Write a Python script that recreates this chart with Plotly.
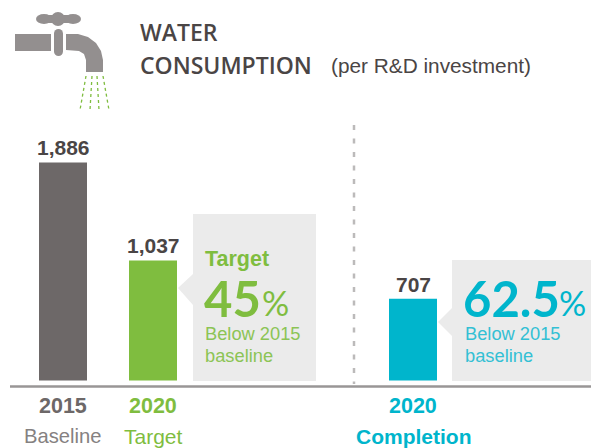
import plotly.graph_objects as go

# data
categories = ["2015", "2020", "2020"]
sublabels = ["Baseline", "Target", "Completion"]
sub_sizes = [20.2, 21, 21]
sub_shift = [-1, 0, 1]
values = [1886, 1037, 707]
value_labels = ["1,886", "1,037", "707"]
bar_colors = ["#6d6868", "#7fbd3f", "#00b5cc"]

W, H = 591, 448
GREY = "#938f8f"
DARK = "#4a4545"
GREEN = "#7fbd3f"
TEAL = "#00b5cc"
PANEL = "#ebebeb"
SANS = "Liberation Sans"
HEAD = "Open Sans"
NUM = "Lato"

centers = [63, 153, 413]
base_py = 380.5
scale = 0.1156  # px per unit

fig = go.Figure(go.Bar(
    x=centers, y=values, width=48, marker=dict(color=bar_colors, line=dict(width=0)),
    hoverinfo="skip", cliponaxis=False,
))

def py(v):
    return 1 - v / H

def path(points, close=True):
    s = "M" + " L".join(f"{x/W:.5f},{py(y):.5f}" for x, y in points)
    return s + (" Z" if close else "")

shapes = []
def add_rect(x0, y0, x1, y1, color, **kw):
    shapes.append(dict(type="rect", xref="paper", yref="paper", x0=x0/W, x1=x1/W,
                       y0=py(y1), y1=py(y0), fillcolor=color, line=dict(width=0), layer="below", **kw))
def add_poly(points, color):
    shapes.append(dict(type="path", xref="paper", yref="paper", path=path(points),
                       fillcolor=color, line=dict(width=0), layer="below"))
def add_line(x0, y0, x1, y1, color, width, dash="solid"):
    shapes.append(dict(type="line", xref="paper", yref="paper", x0=x0/W, x1=x1/W,
                       y0=py(y0), y1=py(y1), line=dict(color=color, width=width, dash=dash), layer="below"))
def add_ellipse(x0, y0, x1, y1, color):
    shapes.append(dict(type="circle", xref="paper", yref="paper", x0=x0/W, x1=x1/W,
                       y0=py(y1), y1=py(y0), fillcolor=color, line=dict(width=0), layer="below"))

# callouts
add_rect(193, 214, 316, 381, PANEL)
add_poly([(178, 288), (193, 274), (193, 305)], PANEL)
add_rect(452, 260, 591, 381, PANEL)
add_poly([(438, 322), (452, 308), (452, 336)], PANEL)

# baseline and divider
add_line(10, 386.5, 591, 386.5, "#999696", 2.5)
add_line(354, 125, 354, 384, "#bcbaba", 2.5, "5px,8.5px")

# faucet
add_rect(15, 34, 51, 51, GREY)
add_rect(54, 33.5, 63, 51.5, GREY)
add_ellipse(54, 29, 63, 38, GREY)
add_ellipse(54, 47, 63, 56, GREY)
add_ellipse(36, 14, 52, 24, GREY)
add_ellipse(65, 14, 81, 24, GREY)
add_rect(44, 15, 72, 23, GREY)
add_ellipse(51, 12, 65, 26, GREY)
shapes.append(dict(type="path", xref="paper", yref="paper", fillcolor=GREY, line=dict(width=0), layer="below",
    path=path([(66, 34), (78, 34), (88, 37), (96, 43), (101, 51), (103, 60), (103, 72), (86, 72), (86, 60),
               (84, 54), (79, 51), (66, 50)])))
for x0, x1 in [(86, 80), (92, 90), (97, 99), (103, 109)]:
    add_line(x0, 76, x1, 110, GREEN, 1.3, "dot")

annotations = []
def text(x, y, s, size, color, anchor="center", family=SANS, bold=False, weight=None):
    if bold:
        s = f"<b>{s}</b>"
    font = dict(size=size, color=color, family=family)
    if weight:
        font["weight"] = weight
    annotations.append(dict(xref="paper", yref="paper", x=x/W, y=py(y), text=s, showarrow=False,
                            xanchor=anchor, yanchor="middle", font=font))

# title
text(138, 32, "WATER", 23, DARK, "left", HEAD, weight=600)
text(138, 65, "CONSUMPTION", 23, DARK, "left", HEAD, weight=600)
text(329, 65, "(per R&D investment)", 20.8, DARK, "left")

# value labels and axis labels
label_y = [148, 245, 284]
year_colors = [bar_colors[0], GREEN, TEAL]
for c, vl, ly, cat, sub, ss, sh, yc, sb in zip(centers, value_labels, label_y, categories, sublabels, sub_sizes,
                                               sub_shift, year_colors, [False, False, True]):
    text(c, ly, vl, 21, DARK, bold=True)
    text(c, 406, cat, 21.5, yc, bold=True)
    text(c + sh, 436, sub, ss, "#858181" if c == centers[0] else yc, bold=sb)

# callout text
text(203, 259, "Target", 21.5, GREEN, "left", bold=True)
text(202, 298, "45", 49, GREEN, "left", NUM, bold=True)
text(260, 302, "%", 34, GREEN, "left", NUM)
text(203, 333, "Below 2015", 18.3, "#8cc455", "left")
text(203, 355, "baseline", 18.3, "#8cc455", "left")

text(461, 298, "62.5", 49, TEAL, "left", NUM, bold=True)
text(557, 302, "%", 34, TEAL, "left", NUM)
text(463, 333, "Below 2015", 18.3, "#33c0d4", "left")
text(463, 355, "baseline", 18.3, "#33c0d4", "left")

fig.update_layout(
    width=W, height=H, margin=dict(l=0, r=0, t=0, b=0, autoexpand=False),
    paper_bgcolor="white", plot_bgcolor="rgba(0,0,0,0)", showlegend=False,
    xaxis=dict(range=[0, W], visible=False, fixedrange=True),
    yaxis=dict(range=[-(H - base_py) / scale, base_py / scale], visible=False, fixedrange=True),
    shapes=shapes, annotations=annotations,
)
fig.write_html("out.html", config={"displayModeBar": False},
               post_script="document.body.style.margin='0';document.body.style.overflow='hidden';")
